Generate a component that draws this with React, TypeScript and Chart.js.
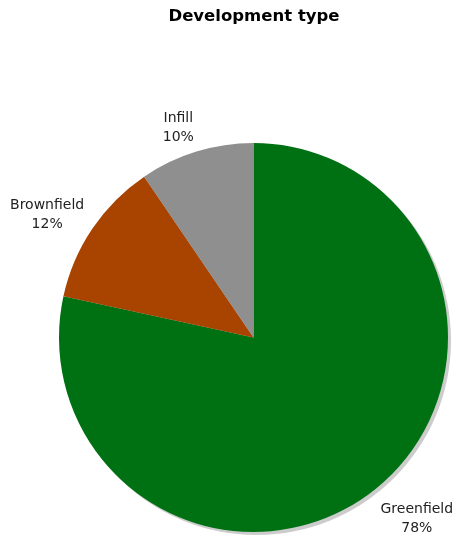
import React, { useEffect, useRef } from "react";
import { Chart, registerables } from "chart.js";

Chart.register(...registerables);

const title = "Development type";
const categories = ["Greenfield", "Brownfield", "Infill"];
const values = [78.4, 12.1, 9.5];
const colors = ["#007113", "#a94400", "#8f8f8f"];

const FONT = '"DejaVu Sans", Verdana, sans-serif';
// small per-label placement nudges (styling only)
const LABEL_NUDGE: [number, number][] = [
  [9, 3],
  [-2, 5],
  [-9, 9],
];

const decorPlugin = {
  id: "decor",
  beforeDatasetsDraw(chart: any) {
    const meta = chart.getDatasetMeta(0);
    const arc = meta.data[0];
    if (!arc) return;
    const { x, y, outerRadius } = arc.getProps(["x", "y", "outerRadius"], true);
    const ctx = chart.ctx;
    ctx.save();
    ctx.fillStyle = "rgba(0,0,0,0.2)";
    ctx.beginPath();
    ctx.arc(x + 3, y + 3, outerRadius, 0, Math.PI * 2);
    ctx.fill();
    ctx.restore();
  },
  afterDraw(chart: any) {
    const ctx = chart.ctx;
    ctx.save();
    ctx.fillStyle = "#000";
    ctx.font = `bold 16.5px ${FONT}`;
    ctx.textAlign = "center";
    ctx.textBaseline = "middle";
    ctx.fillText(title, 254, 17);

    const meta = chart.getDatasetMeta(0);
    const total = values.reduce((a, b) => a + b, 0);
    ctx.font = `14px ${FONT}`;
    ctx.fillStyle = "#222";
    const lineH = 19;
    meta.data.forEach((el: any, i: number) => {
      const p = el.getProps(["x", "y", "startAngle", "endAngle", "outerRadius"], true);
      const mid = (p.startAngle + p.endAngle) / 2;
      const dx = Math.cos(mid);
      const dy = Math.sin(mid);
      const dist = p.outerRadius + 15;
      const ax = p.x + dx * dist;
      const ay = p.y + dy * dist;
      const l1 = categories[i];
      const l2 = Math.round((values[i] / total) * 100) + "%";
      const w = Math.max(ctx.measureText(l1).width, ctx.measureText(l2).width);
      const h = lineH * 2;
      const cx = ax + dx * (w / 2) + LABEL_NUDGE[i][0];
      const cy = ay + dy * (h / 2) + LABEL_NUDGE[i][1];
      ctx.fillText(l1, cx, cy - lineH / 2);
      ctx.fillText(l2, cx, cy + lineH / 2);
    });
    ctx.restore();
  },
};

export default function App() {
  const ref = useRef<HTMLCanvasElement>(null);
  useEffect(() => {
    document.body.style.margin = "0";
    const chart = new Chart(ref.current!, {
      type: "pie",
      data: {
        labels: categories,
        datasets: [
          {
            data: values,
            backgroundColor: colors,
            borderWidth: 0,
          },
        ],
      },
      options: {
        responsive: false,
        animation: false,
        layout: { padding: { left: 59, right: 8, top: 143, bottom: 4 } },
        plugins: {
          legend: { display: false },
          tooltip: { enabled: false },
          title: { display: false },
        },
      },
      plugins: [decorPlugin],
    });
    return () => chart.destroy();
  }, []);
  return (
    <div style={{ width: 456, height: 536 }}>
      <canvas ref={ref} width={456} height={536} />
    </div>
  );
}
